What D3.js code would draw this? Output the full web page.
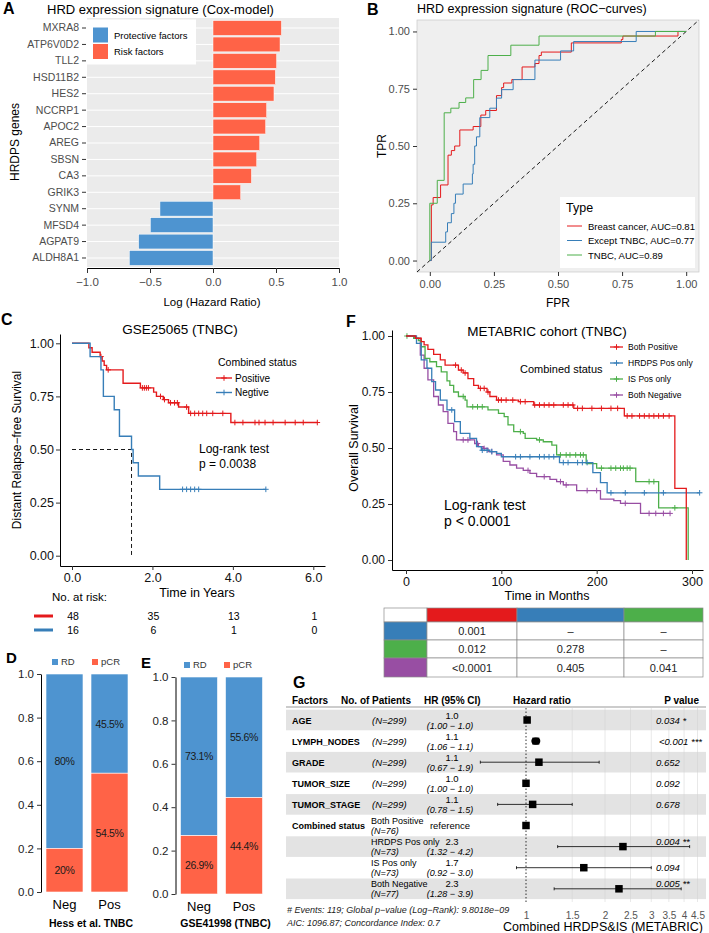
<!DOCTYPE html>
<html>
<head>
<meta charset="utf-8">
<title>HRD signature figure</title>
<script src="https://cdn.jsdelivr.net/npm/d3@7"></script>
<style>
  body { margin: 0; background: #fff; }
  text { font-family: "Liberation Sans", Arial, sans-serif; }
</style>
</head>
<body>
<script>
// ---------- data ----------
var coxGenes = ["MXRA8", "ATP6V0D2", "TLL2", "HSD11B2", "HES2", "NCCRP1", "APOC2", "AREG", "SBSN", "CA3", "GRIK3", "SYNM", "MFSD4", "AGPAT9", "ALDH8A1"];
var coxLogHR = [0.543, 0.532, 0.505, 0.495, 0.484, 0.426, 0.418, 0.371, 0.347, 0.305, 0.220, -0.421, -0.497, -0.590, -0.664];

var rocBreast = [[0, 0], [0.006, 0.243], [0.013, 0.275], [0.042, 0.33], [0.071, 0.46], [0.084, 0.48], [0.097, 0.50], [0.117, 0.57], [0.169, 0.585], [0.199, 0.635], [0.218, 0.655], [0.26, 0.72], [0.28, 0.755], [0.288, 0.775], [0.32, 0.79], [0.36, 0.845], [0.41, 0.86], [0.426, 0.895], [0.435, 0.91], [0.552, 0.95], [0.747, 0.965], [0.753, 0.98], [0.968, 1.0], [1, 1]];
var rocExcept = [[0, 0], [0.006, 0.08], [0.062, 0.125], [0.069, 0.165], [0.084, 0.205], [0.094, 0.25], [0.1, 0.29], [0.13, 0.334], [0.166, 0.378], [0.169, 0.42], [0.175, 0.50], [0.182, 0.54], [0.195, 0.624], [0.234, 0.665], [0.26, 0.709], [0.28, 0.746], [0.325, 0.79], [0.41, 0.875], [0.51, 0.915], [0.561, 0.956], [0.805, 1.0], [1, 1]];
var rocTNBC = [[0, 0], [0, 0.25], [0.029, 0.35], [0.056, 0.645], [0.082, 0.665], [0.114, 0.69], [0.14, 0.71], [0.171, 0.79], [0.2, 0.83], [0.227, 0.895], [0.316, 0.94], [0.426, 0.98], [0.88, 1.0], [1, 1]];
var rocLabels = ["Breast cancer, AUC=0.81", "Except TNBC, AUC=0.77", "TNBC, AUC=0.89"];

// GSE25065: [time in years, survival]
var gsePos = [[0, 1], [0.42, 0.979], [0.5, 0.958], [0.7, 0.9375], [0.75, 0.917], [0.8, 0.896], [0.86, 0.875], [1.27, 0.812], [1.7, 0.79], [2.03, 0.77], [2.1, 0.75], [2.27, 0.735], [2.4, 0.72], [2.65, 0.70], [2.9, 0.67], [3.95, 0.627]];
var gsePosEnd = 6.1;
var gsePosCens = [0.72, 0.9, 1.75, 1.8, 1.85, 1.9, 2.2, 2.3, 2.45, 2.55, 2.62, 2.85, 2.95, 3.05, 3.15, 3.25, 3.35, 3.5, 3.75, 4.05, 4.25, 4.55, 4.65, 4.8, 5.0, 5.3, 5.55, 5.75, 6.1];
var gseNeg = [[0, 1], [0.45, 0.9375], [0.72, 0.875], [0.78, 0.75], [1.05, 0.6875], [1.18, 0.5625], [1.48, 0.5], [1.52, 0.4375], [1.65, 0.375], [2.18, 0.3125]];
var gseNegEnd = 4.82;
var gseNegCens = [2.75, 2.85, 2.95, 3.05, 3.15, 4.82];
var riskTimes = [0, 2, 4, 6];
var riskPos = [48, 35, 13, 1];
var riskNeg = [16, 6, 1, 0];

// METABRIC: [time in months, survival]
var mbBothPos = [[0, 1], [10, 0.99], [16, 0.975], [19, 0.96], [23, 0.94], [29, 0.918], [36, 0.893], [41, 0.87], [55, 0.848], [60, 0.835], [65, 0.81], [71, 0.78], [76, 0.766], [85, 0.75], [88, 0.73], [95, 0.714], [118, 0.707], [134, 0.692], [176, 0.677], [229, 0.643], [282, 0.32], [294, 0]];
var mbBothPosEnd = 294;
var mbBothPosCens = [52, 58, 62, 78, 82, 86, 97, 100, 105, 112, 120, 125, 135, 140, 145, 150, 155, 165, 170, 175, 180, 185, 195, 205, 215, 222, 232, 237, 245, 250, 255, 260, 265, 270, 276];
var mbHrdps = [[0, 1], [11, 0.967], [16, 0.893], [22, 0.856], [27, 0.796], [31, 0.759], [36, 0.714], [43, 0.67], [51, 0.618], [57, 0.565], [67, 0.543], [74, 0.506], [79, 0.49], [88, 0.484], [95, 0.476], [100, 0.461], [161, 0.435], [196, 0.39], [204, 0.345], [211, 0.30]];
var mbHrdpsEnd = 308;
var mbHrdpsCens = [48, 80, 85, 90, 115, 120, 130, 140, 145, 150, 155, 165, 170, 180, 185, 190, 215, 230, 250, 270, 308];
var mbIs = [[0, 1], [8, 0.99], [13, 0.98], [16, 0.952], [20, 0.90], [25, 0.885], [32, 0.863], [37, 0.84], [43, 0.80], [46, 0.78], [50, 0.75], [55, 0.73], [62, 0.714], [64, 0.684], [86, 0.67], [97, 0.655], [103, 0.64], [107, 0.603], [113, 0.573], [123, 0.565], [125, 0.543], [137, 0.536], [144, 0.528], [153, 0.513], [158, 0.469], [189, 0.43], [200, 0.41], [241, 0.35], [265, 0.233], [296, 0]];
var mbIsEnd = 296;
var mbIsCens = [1, 60, 70, 75, 80, 120, 140, 162, 168, 172, 178, 183, 186, 205, 215, 220, 225, 228, 232, 235, 255, 260, 282];
var mbBothNeg = [[0, 1], [9, 0.99], [15, 0.915], [19, 0.856], [23, 0.804], [29, 0.73], [34, 0.692], [39, 0.662], [44, 0.61], [50, 0.573], [53, 0.536], [72, 0.52], [76, 0.506], [81, 0.498], [86, 0.484], [95, 0.469], [102, 0.44], [109, 0.424], [116, 0.41], [123, 0.40], [130, 0.387], [137, 0.372], [151, 0.36], [158, 0.35], [165, 0.335], [179, 0.31], [204, 0.272], [218, 0.265], [225, 0.253], [246, 0.208]];
var mbBothNegEnd = 277;
var mbBothNegCens = [60, 65, 75, 82, 90, 128, 145, 162, 168, 190, 200, 230, 255, 262, 270, 277];
var mbGroups = ["Both Positive", "HRDPS Pos only", "IS Pos only", "Both Negative"];
var pairRows = ["HRDPS Pos only", "IS Pos only", "Both Negative"];
var pairCols = ["Both Positive", "HRDPS Pos only", "IS Pos only"];
var pairP = [["0.001", "–", "–"], ["0.012", "0.278", "–"], ["<0.0001", "0.405", "0.041"]];

// pCR bars
var pcrGroups = ["Neg", "Pos"];
var hessPCR = [0.20, 0.545];
var hessLabRD = ["80%", "45.5%"];
var hessLabPCR = ["20%", "54.5%"];
var gseBarPCR = [0.269, 0.444];
var gseLabRD = ["73.1%", "55.6%"];
var gseLabPCR = ["26.9%", "44.4%"];

// forest plot
var fFactor = ["AGE", "LYMPH_NODES", "GRADE", "TUMOR_SIZE", "TUMOR_STAGE", "Combined status", "", "", ""];
var fSub = ["", "", "", "", "", "Both Positive", "HRDPS Pos only", "IS Pos only", "Both Negative"];
var fN = [299, 299, 299, 299, 299, 76, 73, 73, 77];
var fHR = [1.01, 1.09, 1.12, 1.0, 1.06, 1.0, 2.34, 1.66, 2.26];
var fHRLab = ["1.0", "1.1", "1.1", "1.0", "1.1", "reference", "2.3", "1.7", "2.3"];
var fLo = [1.0, 1.06, 0.67, 1.0, 0.78, null, 1.32, 0.92, 1.28];
var fHi = [1.0, 1.1, 1.9, 1.0, 1.5, null, 4.2, 3.0, 3.9];
var fCILab = ["(1.00 − 1.0)", "(1.06 − 1.1)", "(0.67 − 1.9)", "(1.00 − 1.0)", "(0.78 − 1.5)", "", "(1.32 − 4.2)", "(0.92 − 3.0)", "(1.28 − 3.9)"];
var fP = ["0.034 *", "<0.001 ***", "0.652", "0.092", "0.678", "", "0.004 **", "0.094", "0.005 **"];
var fTicks = [1, 1.5, 2, 2.5, 3, 3.5, 4, 4.5];

// ---------- drawing ----------
var red = "#E41A1C", blue = "#377EB8", green = "#4DAF4A", purple = "#984EA3";
var barBlue = "#4E94D0", barRed = "#FF6347";

var svg = d3.select("body").append("svg").attr("width", 709).attr("height", 933);

function label(x, y, s, size, o) {
  o = o || {};
  var t = svg.append("text").attr("x", x).attr("y", y).text(s)
    .attr("font-size", size)
    .attr("text-anchor", o.anchor || "start")
    .attr("fill", o.fill || "#000");
  if (o.bold) t.attr("font-weight", "bold");
  if (o.italic) t.attr("font-style", "italic");
  if (o.rotate) t.attr("transform", "rotate(-90," + x + "," + y + ")");
  return t;
}

function styleAxis(g, size, color) {
  g.attr("font-family", null).attr("font-size", null);
  g.selectAll("text").attr("font-size", size).attr("fill", color);
  g.selectAll("line").attr("stroke", "#333");
  g.select(".domain").attr("stroke", "#000");
}

function plus(g, x, y, col) {
  g.append("path").attr("d", "M" + (x - 2.8) + "," + y + "h5.6M" + x + "," + (y - 2.8) + "v5.6")
    .attr("stroke", col).attr("stroke-width", 1);
}

function survAt(steps, t) {
  var s = 1;
  steps.forEach(function (p) { if (p[0] <= t) s = p[1]; });
  return s;
}

// ===== A =====
var xA = d3.scaleLinear().domain([-1, 1]).range([87, 339]);
var yA = d3.scaleBand().domain(coxGenes).range([19.8, 266.2]).paddingInner(0.1).paddingOuter(0.05);
svg.append("rect").attr("x", 87).attr("y", 18).attr("width", 252).attr("height", 249).attr("fill", "#EBEBEB");
svg.append("g").selectAll("line").data(coxGenes).enter().append("line")
  .attr("x1", 87).attr("x2", 339)
  .attr("y1", function (d) { return yA(d) + yA.bandwidth() / 2; })
  .attr("y2", function (d) { return yA(d) + yA.bandwidth() / 2; })
  .attr("stroke", "#fff").attr("stroke-width", 1);
svg.append("g").selectAll("rect").data(coxGenes).enter().append("rect")
  .attr("x", function (d, i) { return xA(Math.min(0, coxLogHR[i])); })
  .attr("width", function (d, i) { return Math.abs(xA(coxLogHR[i]) - xA(0)); })
  .attr("y", function (d) { return yA(d); })
  .attr("height", yA.bandwidth())
  .attr("fill", function (d, i) { return coxLogHR[i] < 0 ? barBlue : barRed; })
  .attr("stroke", "#fff").attr("stroke-width", 0.5);
var axA = svg.append("g").attr("transform", "translate(0,268)")
  .call(d3.axisBottom(xA).tickValues([-1, -0.5, 0, 0.5, 1]).tickFormat(d3.format(".1f")).tickSizeOuter(0).tickSize(5).tickPadding(5));
styleAxis(axA, 11.5, "#4D4D4D");
var ayA = svg.append("g").attr("transform", "translate(86,0)").call(d3.axisLeft(yA).tickSize(4).tickPadding(3));
styleAxis(ayA, 10.5, "#4D4D4D");
ayA.select(".domain").remove();
// legend
svg.append("rect").attr("x", 87).attr("y", 19.5).attr("width", 109).attr("height", 45).attr("fill", "#fff");
svg.append("rect").attr("x", 93).attr("y", 27.5).attr("width", 15).attr("height", 15).attr("fill", barBlue);
svg.append("rect").attr("x", 93).attr("y", 44).attr("width", 15).attr("height", 15).attr("fill", barRed);
label(114, 38.5, "Protective factors", 9.5);
label(114, 55, "Risk factors", 9.5);
label(212, 306, "Log (Hazard Ratio)", 11.5, { anchor: "middle" });
label(19, 142, "HRDPS genes", 12, { anchor: "middle", rotate: true });
label(47, 14, "HRD expression signature (Cox-model)", 13);
label(3, 14, "A", 16, { bold: true });

// ===== B =====
var xB = d3.scaleLinear().domain([-0.05, 1.05]).range([417, 699]);
var yB = d3.scaleLinear().domain([-0.05, 1.05]).range([272, 20]);
svg.append("rect").attr("x", 417).attr("y", 20).attr("width", 282).attr("height", 252)
  .attr("fill", "#EFEFEF").attr("stroke", "#C9C9C9").attr("stroke-width", 0.7);
svg.append("line").attr("x1", xB(-0.05)).attr("y1", yB(-0.05)).attr("x2", xB(1.05)).attr("y2", yB(1.05))
  .attr("stroke", "#000").attr("stroke-dasharray", "4,3").attr("stroke-width", 0.9);
var rocLine = d3.line().x(function (d) { return xB(d[0]); }).y(function (d) { return yB(d[1]); }).curve(d3.curveStepAfter);
[[rocBreast, red], [rocExcept, blue], [rocTNBC, green]].forEach(function (r) {
  svg.append("path").attr("d", rocLine(r[0])).attr("fill", "none").attr("stroke", r[1]).attr("stroke-width", 1);
});
var fmt2 = d3.format(".2f");
var axB = svg.append("g").attr("transform", "translate(0,272)")
  .call(d3.axisBottom(xB).tickValues([0, 0.25, 0.5, 0.75, 1]).tickFormat(fmt2).tickSize(4).tickSizeOuter(0).tickPadding(4));
styleAxis(axB, 11, "#4D4D4D");
axB.select(".domain").remove();
var ayB = svg.append("g").attr("transform", "translate(417,0)")
  .call(d3.axisLeft(yB).tickValues([0, 0.25, 0.5, 0.75, 1]).tickFormat(fmt2).tickSize(4).tickSizeOuter(0).tickPadding(3));
styleAxis(ayB, 11, "#4D4D4D");
ayB.select(".domain").remove();
label(558, 307, "FPR", 12, { anchor: "middle" });
label(386, 146, "TPR", 12, { anchor: "middle", rotate: true });
label(417, 13, "HRD expression signature (ROC−curves)", 12.5);
label(367, 15, "B", 16, { bold: true });
svg.append("rect").attr("x", 560).attr("y", 197).attr("width", 135).attr("height", 71).attr("fill", "#fff");
label(566, 212, "Type", 12.5);
[red, blue, green].forEach(function (c, i) {
  var y = 226 + i * 14.5;
  svg.append("line").attr("x1", 567).attr("x2", 582).attr("y1", y).attr("y2", y).attr("stroke", c).attr("stroke-width", 1);
  label(588, y + 3.5, rocLabels[i], 9.5);
});

// ===== C =====
var xC = d3.scaleLinear().domain([0, 6]).range([72, 313.3]);
var yC = d3.scaleLinear().domain([0, 1]).range([555.7, 343.3]);
var kmC = d3.line().x(function (d) { return xC(d[0]); }).y(function (d) { return yC(d[1]); }).curve(d3.curveStepAfter);
// median line
var medT = gseNeg.filter(function (p) { return p[1] <= 0.5; })[0][0];
svg.append("path").attr("d", "M" + xC(0) + "," + yC(0.5) + "H" + xC(medT) + "V" + yC(0))
  .attr("fill", "none").attr("stroke", "#000").attr("stroke-width", 0.9).attr("stroke-dasharray", "4,3");
[[gsePos, gsePosEnd, gsePosCens, red], [gseNeg, gseNegEnd, gseNegCens, blue]].forEach(function (k) {
  var pts = k[0].concat([[k[1], k[0][k[0].length - 1][1]]]);
  svg.append("path").attr("d", kmC(pts)).attr("fill", "none").attr("stroke", k[3]).attr("stroke-width", 1.4);
  var g = svg.append("g");
  k[2].forEach(function (t) { plus(g, xC(t), yC(survAt(k[0], t)), k[3]); });
});
var xCfull = xC.copy().domain([xC.invert(60), xC.invert(325)]).range([60, 325]);
var yCfull = yC.copy().domain([yC.invert(566), yC.invert(334)]).range([566, 334]);
var axC = svg.append("g").attr("transform", "translate(0,566)")
  .call(d3.axisBottom(xCfull).tickValues(riskTimes).tickSize(4).tickSizeOuter(0).tickPadding(3));
styleAxis(axC, 12.5, "#111");
var ayC = svg.append("g").attr("transform", "translate(60,0)")
  .call(d3.axisLeft(yCfull).tickValues([0, 0.25, 0.5, 0.75, 1]).tickFormat(fmt2).tickSize(4).tickSizeOuter(0).tickPadding(2));
styleAxis(ayC, 12.5, "#111");
label(197, 597, "Time in Years", 12.5, { anchor: "middle" });
label(21, 450, "Distant Relapse−free Survival", 12, { anchor: "middle", rotate: true });
label(180, 334, "GSE25065 (TNBC)", 13.5, { anchor: "middle" });
label(1, 325, "C", 16, { bold: true });
label(218, 366, "Combined status", 10.5);
[["Positive", red], ["Negtive", blue]].forEach(function (e, i) {
  var y = 378 + i * 14.5;
  svg.append("line").attr("x1", 216).attr("x2", 232).attr("y1", y).attr("y2", y).attr("stroke", e[1]).attr("stroke-width", 1.4);
  plus(svg, 224, y, e[1]);
  label(235, y + 3.5, e[0], 10);
});
label(199, 453, "Log-rank test", 12);
label(199, 468, "p = 0.0038", 12);
label(52, 601, "No. at risk:", 11.5);
[[riskPos, red], [riskNeg, blue]].forEach(function (r, j) {
  var y = 616 + j * 14;
  svg.append("line").attr("x1", 34).attr("x2", 53).attr("y1", y).attr("y2", y).attr("stroke", r[1]).attr("stroke-width", 3);
  r[0].forEach(function (v, i) { label(xC(riskTimes[i]) + 1, y + 4, v, 10.5, { anchor: "middle" }); });
});

// ===== F =====
var xF = d3.scaleLinear().domain([0, 300]).range([406, 692]);
var yF = d3.scaleLinear().domain([0, 1]).range([560, 336]);
var kmF = d3.line().x(function (d) { return xF(d[0]); }).y(function (d) { return yF(d[1]); }).curve(d3.curveStepAfter);
var mbCurves = [[mbBothPos, mbBothPosEnd, mbBothPosCens, red], [mbHrdps, mbHrdpsEnd, mbHrdpsCens, blue],
  [mbIs, mbIsEnd, mbIsCens, green], [mbBothNeg, mbBothNegEnd, mbBothNegCens, purple]];
mbCurves.slice().reverse().forEach(function (k) {
  var pts = k[0].concat([[k[1], k[0][k[0].length - 1][1]]]);
  svg.append("path").attr("d", kmF(pts)).attr("fill", "none").attr("stroke", k[3]).attr("stroke-width", 1.3);
  var g = svg.append("g");
  k[2].forEach(function (t) { plus(g, xF(t), yF(survAt(k[0], t)), k[3]); });
});
var xFfull = xF.copy().domain([xF.invert(392), xF.invert(703)]).range([392, 703]);
var yFfull = yF.copy().domain([yF.invert(570), yF.invert(330)]).range([570, 330]);
var axF = svg.append("g").attr("transform", "translate(0,570)")
  .call(d3.axisBottom(xFfull).tickValues([0, 100, 200, 300]).tickSize(4).tickSizeOuter(0).tickPadding(3));
styleAxis(axF, 12.5, "#111");
var ayF = svg.append("g").attr("transform", "translate(392,0)")
  .call(d3.axisLeft(yFfull).tickValues([0, 0.25, 0.5, 0.75, 1]).tickFormat(fmt2).tickSize(4).tickSizeOuter(0).tickPadding(3));
styleAxis(ayF, 12, "#111");
label(547, 600, "Time in Months", 12.5, { anchor: "middle" });
label(358, 448, "Overall Survival", 12.5, { anchor: "middle", rotate: true });
label(547, 336, "METABRIC cohort (TNBC)", 13.5, { anchor: "middle" });
label(346, 327, "F", 16, { bold: true });
label(520, 373, "Combined status", 11);
mbGroups.forEach(function (name, i) {
  var y = 347 + i * 16;
  svg.append("line").attr("x1", 610).attr("x2", 623).attr("y1", y).attr("y2", y).attr("stroke", mbCurves[i][3]).attr("stroke-width", 1.3);
  plus(svg, 616.5, y, mbCurves[i][3]);
  label(628, y + 3, name, 8.5);
});
label(444, 510, "Log-rank test", 14);
label(444, 526, "p < 0.0001", 14);
// pairwise p table
var colX = [384, 427, 517, 624, 703], rowY = [608, 622, 640, 658, 677];
var groupColor = { "Both Positive": red, "HRDPS Pos only": blue, "IS Pos only": green, "Both Negative": purple };
var tbl = svg.append("g");
for (var r = 0; r < 4; r++) {
  for (var c = 0; c < 4; c++) {
    var fill = "#fff";
    if (r === 0 && c > 0) fill = groupColor[pairCols[c - 1]];
    if (c === 0 && r > 0) fill = groupColor[pairRows[r - 1]];
    tbl.append("rect").attr("x", colX[c]).attr("y", rowY[r]).attr("width", colX[c + 1] - colX[c]).attr("height", rowY[r + 1] - rowY[r])
      .attr("fill", fill).attr("stroke", "#8C8C8C").attr("stroke-width", 0.7);
    if (r > 0 && c > 0) {
      label((colX[c] + colX[c + 1]) / 2, (rowY[r] + rowY[r + 1]) / 2 + 4, pairP[r - 1][c - 1], 11, { anchor: "middle", fill: "#222" });
    }
  }
}

// ===== D & E =====
function pcrPanel(x0, x1, y0, y1, vals, labRD, labPCR, title, letter, lx, ly, legY, legX) {
  var x = d3.scaleBand().domain(pcrGroups).range([x0, x1]).paddingInner(0.178).paddingOuter(0.1);
  var y = d3.scaleLinear().domain([0, 1]).range([y1, y0]);
  var g = svg.append("g");
  g.selectAll("rect.rd").data(pcrGroups).enter().append("rect")
    .attr("x", function (d) { return x(d); }).attr("width", x.bandwidth())
    .attr("y", y(1)).attr("height", function (d, i) { return y(vals[i]) - y(1); })
    .attr("fill", barBlue).attr("stroke", "#fff").attr("stroke-width", 0.6);
  g.selectAll("rect.pcr").data(pcrGroups).enter().append("rect")
    .attr("x", function (d) { return x(d); }).attr("width", x.bandwidth())
    .attr("y", function (d, i) { return y(vals[i]); }).attr("height", function (d, i) { return y(0) - y(vals[i]); })
    .attr("fill", barRed).attr("stroke", "#fff").attr("stroke-width", 0.6);
  pcrGroups.forEach(function (d, i) {
    var cx = x(d) + x.bandwidth() / 2;
    label(cx, y(vals[i] + (1 - vals[i]) / 2) + 4, labRD[i], 10.5, { anchor: "middle", fill: "#1a1a1a" }).attr("letter-spacing", -0.4);
    label(cx, y(vals[i] / 2) + 4, labPCR[i], 10.5, { anchor: "middle", fill: "#1a1a1a" }).attr("letter-spacing", -0.4);
    label(cx, y1 + 17, d, 13, { anchor: "middle" });
  });
  var ay = svg.append("g").attr("transform", "translate(" + (x0 - 0.5) + ",0)")
    .call(d3.axisLeft(y).tickValues([0, 0.2, 0.4, 0.6, 0.8, 1]).tickFormat(d3.format(".1f")).tickSize(4).tickSizeOuter(0).tickPadding(3));
  styleAxis(ay, 11.5, "#222");
  label((x0 + x1) / 2 + 4, 927, title, 10.5, { anchor: "middle", bold: true });
  label(lx, ly, letter, 15, { bold: true });
  svg.append("rect").attr("x", legX).attr("y", legY - 6).attr("width", 6).attr("height", 6).attr("fill", barBlue);
  label(legX + 9, legY, "RD", 9.5, { fill: "#333" });
  svg.append("rect").attr("x", legX + 40).attr("y", legY - 6).attr("width", 6).attr("height", 6).attr("fill", barRed);
  label(legX + 49, legY, "pCR", 9.5, { fill: "#333" });
}
pcrPanel(41.5, 132.5, 674, 892, hessPCR, hessLabRD, hessLabPCR, "Hess et al. TNBC", "D", 6, 663, 665, 52);
pcrPanel(176, 267, 677, 894, gseBarPCR, gseLabRD, gseLabPCR, "GSE41998 (TNBC)", "E", 141, 668, 668, 184);

// ===== G =====
var xG = d3.scaleLog().domain([1, 4.5]).range([526, 697.5]);
var rowC = function (i) { return 720 + i * 21.1; };
label(293, 688, "G", 16, { bold: true });
fFactor.forEach(function (f, i) {
  if (i % 2 === 0) {
    svg.append("rect").attr("x", 286).attr("y", rowC(i) - 10.3).attr("width", 420).attr("height", 20.6).attr("fill", "#E3E3E3");
  }
});
svg.append("line").attr("x1", 286).attr("x2", 706).attr("y1", 707).attr("y2", 707).attr("stroke", "#555").attr("stroke-width", 0.6);
fTicks.slice(1).forEach(function (t) {
  svg.append("line").attr("x1", xG(t)).attr("x2", xG(t)).attr("y1", 708).attr("y2", 902).attr("stroke", "#D0D0D0").attr("stroke-width", 0.5);
});
svg.append("line").attr("x1", xG(1)).attr("x2", xG(1)).attr("y1", 708).attr("y2", 903)
  .attr("stroke", "#000").attr("stroke-width", 0.8).attr("stroke-dasharray", "1.5,2");
label(292, 704, "Factors", 10, { bold: true });
label(341, 704, "No. of Patients", 10, { bold: true });
label(424, 704, "HR (95% CI)", 10, { bold: true });
label(513, 704, "Hazard ratio", 10, { bold: true });
label(699, 704, "P value", 10, { bold: true, anchor: "end" });
fFactor.forEach(function (f, i) {
  var c = rowC(i);
  if (f) label(292, c + 3.5, f, 9, { bold: true });
  if (fSub[i]) {
    label(371, c - 1.5, fSub[i], 9);
    label(371, c + 8.5, "(N=" + fN[i] + ")", 9, { italic: true });
  } else {
    label(372, c + 3.5, "(N=" + fN[i] + ")", 9.5, { italic: true });
  }
  if (fCILab[i]) {
    label(452, c - 1.5, fHRLab[i], 9.5, { anchor: "middle" });
    label(450, c + 8.5, fCILab[i], 9, { anchor: "middle", italic: true });
  } else {
    label(450, c + 3.5, fHRLab[i], 9.5, { anchor: "middle" });
  }
  if (fLo[i] !== null && fHi[i] - fLo[i] > 0.1) {
    svg.append("path").attr("d", "M" + xG(fLo[i]) + "," + (c - 1.5) + "v3M" + xG(fLo[i]) + "," + c + "H" + xG(fHi[i]) + "M" + xG(fHi[i]) + "," + (c - 1.5) + "v3")
      .attr("stroke", "#000").attr("stroke-width", 0.8).attr("fill", "none");
  }
  var s = i === 1 ? 7 : 7.5;
  svg.append("rect").attr("x", xG(fHR[i]) - s / 2).attr("y", c - s / 2).attr("width", s).attr("height", s).attr("fill", "#000");
  if (i === 1) svg.append("ellipse").attr("cx", xG(fHR[i])).attr("cy", c).attr("rx", 4.5).attr("ry", 3.6).attr("fill", "#000");
  if (fP[i]) {
    var py = (i === 6 || i === 8) ? c - 1.5 : c + 3.5;
    label(i === 1 ? 659 : 656, py, fP[i], 9.5, { italic: true });
  }
});
var axG = svg.append("g").attr("transform", "translate(0,903)")
  .call(d3.axisBottom(xG).tickValues(fTicks).tickFormat(function (d) { return d; }).tickSize(0).tickPadding(9));
styleAxis(axG, 10, "#555");
axG.select(".domain").remove();
label(287, 913, "# Events: 119; Global p−value (Log−Rank): 9.8018e−09", 9, { italic: true, fill: "#222" });
label(287, 926, "AIC: 1096.87; Concordance Index: 0.7", 9, { italic: true, fill: "#222" });
label(603, 931, "Combined HRDPS&IS (METABRIC)", 12.5, { anchor: "middle" });
</script>
</body>
</html>
